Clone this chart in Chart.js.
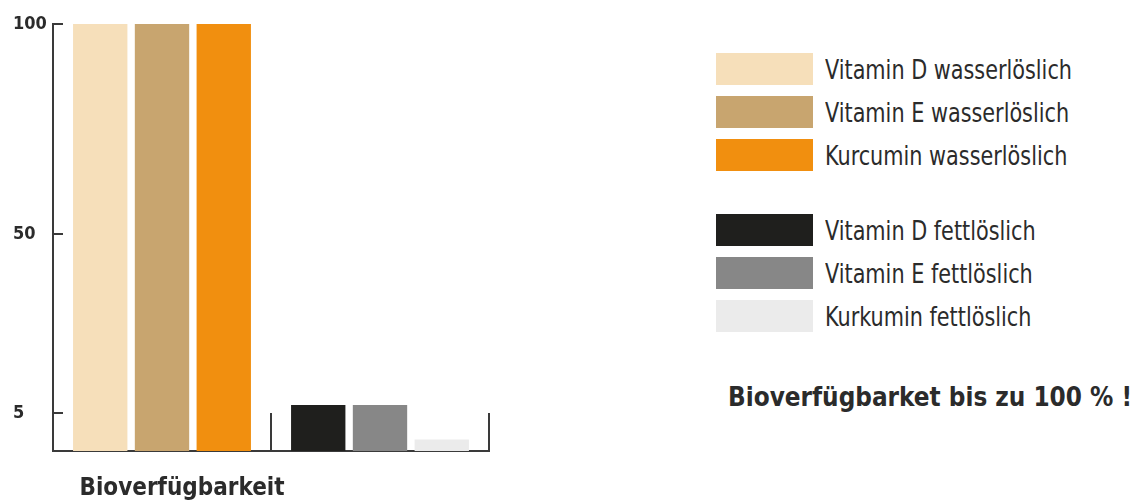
<!DOCTYPE html>
<html>
<head>
<meta charset="utf-8">
<script src="https://cdn.jsdelivr.net/npm/chart.js@4.4.1/dist/chart.umd.min.js"></script>
<style>
  html, body { margin: 0; padding: 0; background: #fff; }
  #wrap {
    position: relative; width: 1140px; height: 504px; overflow: hidden;
    font-family: "DejaVu Sans Condensed", "DejaVu Sans", sans-serif;
    color: #2b2b2b;
  }
  #chartBox { position: absolute; left: 0; top: 0; width: 520px; height: 504px; }
  #legend { position: absolute; left: 716px; top: 53px; }
  .item { display: flex; align-items: center; height: 32px; margin-bottom: 11px; }
  .item .sw { width: 97px; height: 32px; margin-right: 12px; flex: none; }
  .item span { font-size: 27px; white-space: nowrap; display: inline-block; transform-origin: left center; }
  .spacer { height: 32px; }
  #note {
    position: absolute; left: 728px; top: 383px; line-height: 1;
    font-size: 27px; font-weight: bold; white-space: nowrap; transform-origin: left center;
  }
</style>
</head>
<body>
<div id="wrap">
  <div id="chartBox"><canvas id="chart"></canvas></div>
  <div id="legend"></div>
  <div id="note">Bioverfügbarket bis zu 100 % !</div>
</div>
<script>
// values (y axis is stretched, not linear)
const xLabels = ['Bioverfügbarkeit', ''];
const vitaminD = [100, 7];
const vitaminE = [100, 7];
const kurkumin = [100, 1.5];
const yTicks = [5, 50, 100];
const legendLabels = [
  'Vitamin D wasserlöslich', 'Vitamin E wasserlöslich', 'Kurcumin wasserlöslich',
  'Vitamin D fettlöslich', 'Vitamin E fettlöslich', 'Kurkumin fettlöslich'
];

// colours: [wasserlöslich, fettlöslich]
const colD = ['#f6dfba', '#1f1f1d'];
const colE = ['#c8a56f', '#878787'];
const colK = ['#f18f0f', '#ebebeb'];
const axisColor = '#3a3a3a';
const font = '"DejaVu Sans Condensed", "DejaVu Sans", sans-serif';

// piecewise linear scale so 0-5 / 5-50 / 50-100 get their own share of height
class PiecewiseScale extends Chart.LinearScale {
  static id = 'piecewise';
  static defaults = Chart.LinearScale.defaults;
  toFrac(v) {
    const s = this.options.stops;
    for (let i = 1; i < s.length; i++) {
      if (v <= s[i][0] || i === s.length - 1) {
        const [v0, f0] = s[i - 1], [v1, f1] = s[i];
        return f0 + (v - v0) / (v1 - v0) * (f1 - f0);
      }
    }
  }
  fromFrac(f) {
    const s = this.options.stops;
    for (let i = 1; i < s.length; i++) {
      if (f <= s[i][1] || i === s.length - 1) {
        const [v0, f0] = s[i - 1], [v1, f1] = s[i];
        return v0 + (f - f0) / (f1 - f0) * (v1 - v0);
      }
    }
  }
  getPixelForValue(value) {
    if (value === null || value === undefined) return NaN;
    return this.getPixelForDecimal(this.toFrac(value));
  }
  getValueForPixel(pixel) {
    return this.fromFrac(this.getDecimalForPixel(pixel));
  }
}
Chart.register(PiecewiseScale);

const barOpts = { barPercentage: 0.88, categoryPercentage: 0.85 };

new Chart(document.getElementById('chart'), {
  type: 'bar',
  data: {
    labels: xLabels,
    datasets: [
      { label: 'Vitamin D', data: vitaminD, backgroundColor: colD, ...barOpts },
      { label: 'Vitamin E', data: vitaminE, backgroundColor: colE, ...barOpts },
      { label: 'Kurkumin', data: kurkumin, backgroundColor: colK, ...barOpts }
    ]
  },
  options: {
    responsive: true,
    maintainAspectRatio: false,
    animation: false,
    layout: { padding: { left: 13, top: 24, right: 31, bottom: 0 } },
    plugins: { legend: { display: false }, tooltip: { enabled: false } },
    scales: {
      x: {
        grid: { offset: true, drawOnChartArea: false, color: axisColor, lineWidth: 2, tickLength: -38 },
        border: { color: axisColor, width: 2 },
        ticks: {
          color: '#2b2b2b', padding: 61, labelOffset: 20, maxRotation: 0, autoSkip: false,
          font: { family: font, size: 24, weight: 'bold' }
        },
        afterFit: s => { s.height = 53; s.paddingLeft = 0; s.paddingRight = 0; }
      },
      y: {
        type: 'piecewise',
        min: 0, max: 100,
        stops: [[0, 0], [5, 0.089], [50, 0.508], [100, 1]],
        grid: { drawOnChartArea: false, color: axisColor, lineWidth: 2, tickLength: -10 },
        border: { color: axisColor, width: 2 },
        afterBuildTicks: s => { s.ticks = yTicks.map(v => ({ value: v })); },
        ticks: {
          color: '#2b2b2b', crossAlign: 'far',
          font: { family: font, size: 18, weight: 'bold' }
        },
        afterFit: s => { s.width = 40; s.paddingTop = 0; s.paddingBottom = 0; }
      }
    }
  }
});

// legend, two blocks of three
const legendColors = [colD[0], colE[0], colK[0], colD[1], colE[1], colK[1]];
const legendEl = document.getElementById('legend');
const spans = [];
legendLabels.forEach((txt, i) => {
  if (i === 3) {
    const sp = document.createElement('div');
    sp.className = 'spacer';
    legendEl.appendChild(sp);
  }
  const row = document.createElement('div');
  row.className = 'item';
  const sw = document.createElement('div');
  sw.className = 'sw';
  sw.style.background = legendColors[i];
  const span = document.createElement('span');
  span.textContent = txt;
  row.appendChild(sw);
  row.appendChild(span);
  legendEl.appendChild(row);
  spans.push(span);
});

// the original type is a narrow face: squeeze the text to the widths seen in the picture
const legendScale = 247 / spans[0].getBoundingClientRect().width;
spans.forEach(s => { s.style.transform = `scaleX(${legendScale})`; });
const note = document.getElementById('note');
note.style.transform = `scaleX(${404 / note.getBoundingClientRect().width})`;
</script>
</body>
</html>
